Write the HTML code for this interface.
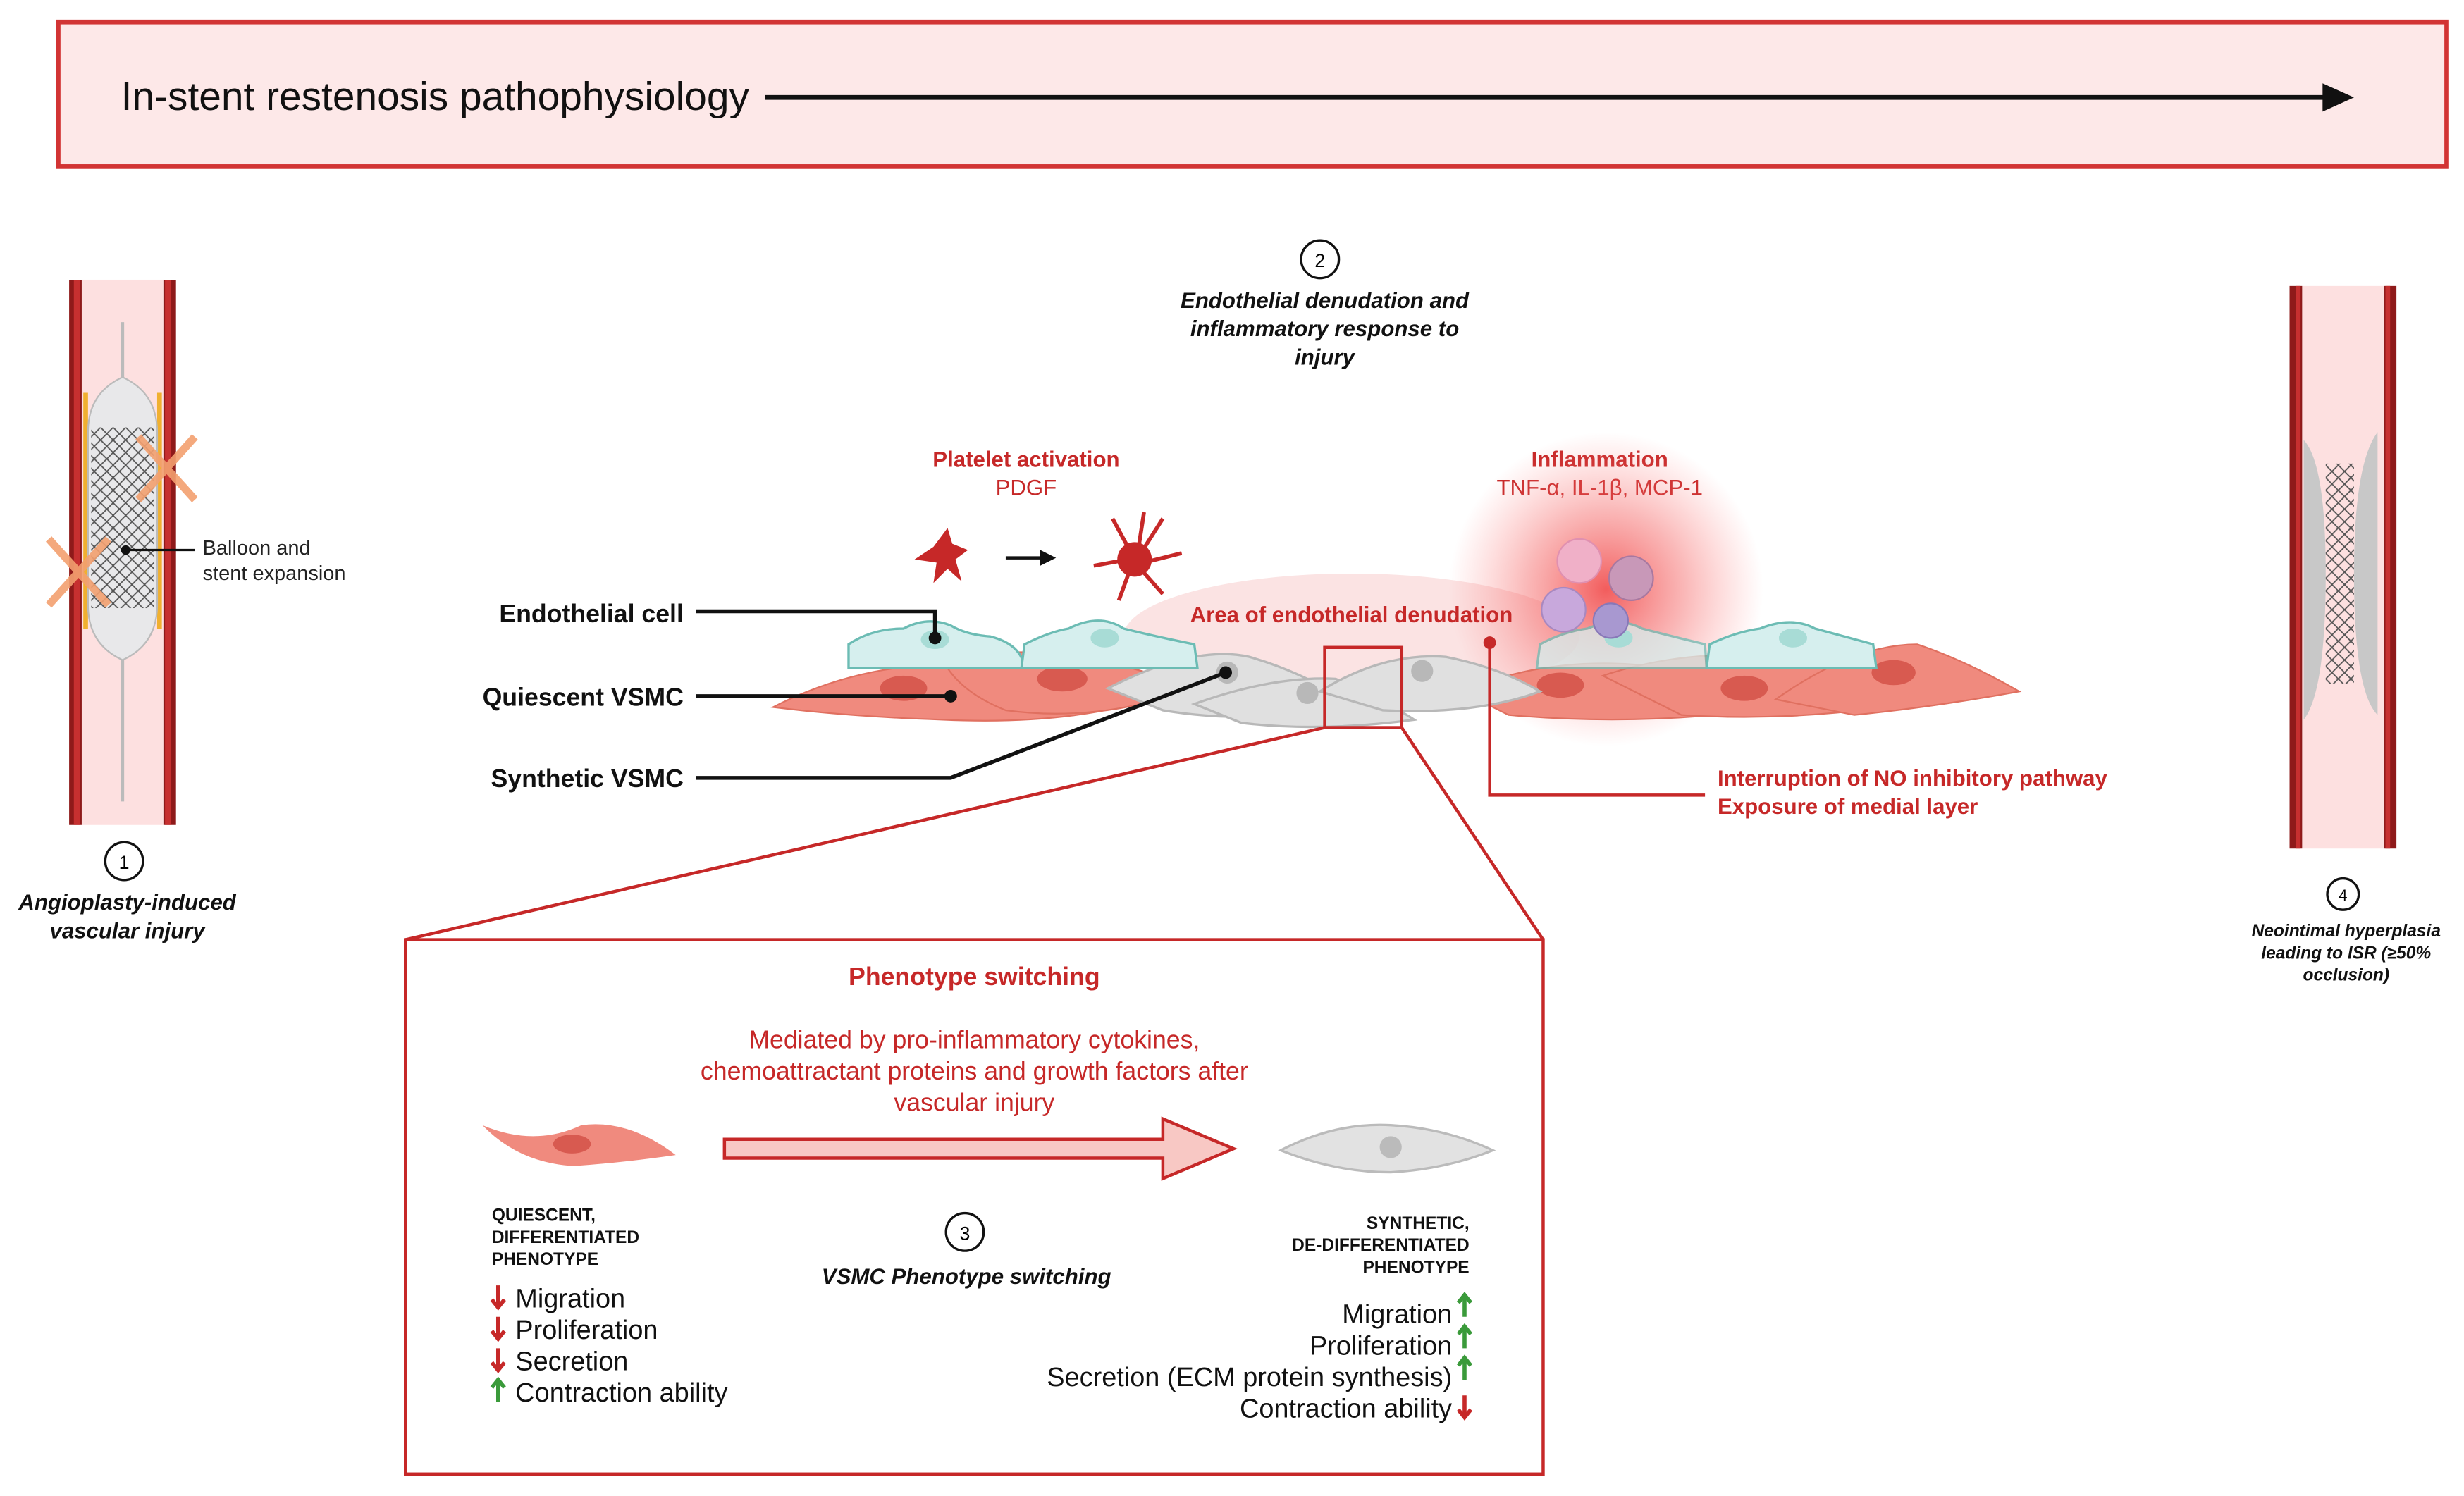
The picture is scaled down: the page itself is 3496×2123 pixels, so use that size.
<!DOCTYPE html>
<html><head><meta charset="utf-8"><style>
html,body{margin:0;padding:0;background:#fff}
svg{display:block}
text{font-family:"Liberation Sans",sans-serif}
</style></head><body>
<svg width="3496" height="2123" viewBox="0 0 1568 952" preserveAspectRatio="none" xmlns="http://www.w3.org/2000/svg">
<defs>
<radialGradient id="glow"><stop offset="0" stop-color="#f04040" stop-opacity="0.85"/><stop offset="0.5" stop-color="#f46060" stop-opacity="0.45"/><stop offset="1" stop-color="#ff8080" stop-opacity="0"/></radialGradient>
<pattern id="mesh" width="8" height="8" patternUnits="userSpaceOnUse"><path d="M0 0L8 8M8 0L0 8" stroke="#555" stroke-width="0.8"/></pattern>
<marker id="ah" markerWidth="10" markerHeight="10" refX="8" refY="5" orient="auto" markerUnits="userSpaceOnUse"><path d="M0 0L10 5L0 10z" fill="#111"/></marker>
</defs>

<rect x="37" y="14" width="1520" height="92" fill="#fde8e8" stroke="#d23434" stroke-width="3"/>
<text x="77" y="70" font-size="25.5" fill="#111">In-stent restenosis pathophysiology</text>
<line x1="487" y1="62" x2="1480" y2="62" stroke="#111" stroke-width="3"/>
<path d="M1478 53L1498 62L1478 71z" fill="#111"/>

<rect x="52" y="178" width="52" height="347" fill="#fde0e0"/>
<path d="M44 178 L52 178 L52 525 L44 525z" fill="#8e1a1a"/>
<path d="M104 178 L112 178 L112 525 L104 525z" fill="#8e1a1a"/>
<path d="M47 178 L51 178 L51 525 L47 525z" fill="#c63030"/>
<path d="M105 178 L109 178 L109 525 L105 525z" fill="#c63030"/>
<rect x="53" y="250" width="3" height="150" fill="#f0b030"/>
<rect x="100" y="250" width="3" height="150" fill="#f0b030"/>
<line x1="78" y1="205" x2="78" y2="510" stroke="#bbb" stroke-width="2"/>
<path d="M78 240 Q56 250 56 275 L56 385 Q56 410 78 420 Q100 410 100 385 L100 275 Q100 250 78 240z" fill="#e8e8ea" stroke="#bbb"/>
<rect x="58" y="272" width="40" height="115" fill="url(#mesh)"/>
<g stroke="#f3a070" stroke-width="5" opacity="0.9"><line x1="88" y1="278" x2="124" y2="318"/><line x1="124" y1="278" x2="88" y2="318"/><line x1="31" y1="343" x2="69" y2="385"/><line x1="69" y1="343" x2="31" y2="385"/></g>
<circle cx="80" cy="350" r="3" fill="#111"/><line x1="80" y1="350" x2="124" y2="350" stroke="#111" stroke-width="1.5"/>
<text x="129" y="353" font-size="13" fill="#222">Balloon and</text>
<text x="129" y="369" font-size="13" fill="#222">stent expansion</text>
<circle cx="79" cy="548" r="12" fill="#fff" stroke="#111" stroke-width="1.5"/><text x="79" y="553" font-size="12" text-anchor="middle">1</text>
<text x="81" y="579" font-size="14" font-weight="bold" font-style="italic" text-anchor="middle" fill="#111">Angioplasty-induced</text>
<text x="81" y="597" font-size="14" font-weight="bold" font-style="italic" text-anchor="middle" fill="#111">vascular injury</text>

<circle cx="840" cy="165" r="12" fill="#fff" stroke="#111" stroke-width="1.5"/><text x="840" y="170" font-size="12" text-anchor="middle">2</text>
<g font-size="14" font-weight="bold" font-style="italic" text-anchor="middle" fill="#111"><text x="843" y="196">Endothelial denudation and</text><text x="843" y="214">inflammatory response to</text><text x="843" y="232">injury</text></g>
<text x="653" y="297" font-size="14" font-weight="bold" fill="#c62828" text-anchor="middle">Platelet activation</text>
<text x="653" y="315" font-size="14" fill="#c62828" text-anchor="middle">PDGF</text>
<text x="1018" y="297" font-size="14" font-weight="bold" fill="#c62828" text-anchor="middle">Inflammation</text>
<text x="1018" y="315" font-size="14" fill="#c62828" text-anchor="middle">TNF-α, IL-1β, MCP-1</text>
<path d="M603 336 L606 346 L616 350 L608 356 L612 370 L603 362 L594 371 L596 358 L582 356 L594 348z" fill="#c62828"/>
<line x1="640" y1="355" x2="670" y2="355" stroke="#111" stroke-width="2" marker-end="url(#ah)"/>
<g stroke="#c62828" stroke-width="2.5" fill="none"><path d="M722 356 L708 330 M724 352 L728 326 M726 352 L740 330 M728 358 L752 352 M724 360 L740 378 M720 360 L712 382 M718 356 L696 360"/></g>
<circle cx="722" cy="356" r="11" fill="#c62828"/>

<ellipse cx="860" cy="405" rx="145" ry="40" fill="#fbe3e3"/>
<circle cx="1022" cy="375" r="100" fill="url(#glow)"/>

<g fill="#f08a7e" stroke="#e07060" stroke-width="1">
<path d="M492 450 Q560 415 640 425 Q700 430 745 440 Q690 462 600 458 Q540 456 492 450z"/>
<path d="M600 420 Q650 410 700 420 Q740 430 760 438 Q700 460 640 452 Q610 440 600 420z"/>
<path d="M930 440 Q990 415 1060 425 Q1100 440 1120 452 Q1040 462 960 455z"/>
<path d="M1020 430 Q1080 410 1150 420 Q1200 430 1230 445 Q1150 460 1070 455z"/>
<path d="M1130 445 Q1180 410 1220 410 Q1250 420 1285 440 Q1230 450 1180 455z"/>
</g>
<g fill="#d85a50"><ellipse cx="575" cy="438" rx="15" ry="8"/><ellipse cx="676" cy="432" rx="16" ry="8"/><ellipse cx="993" cy="436" rx="15" ry="8"/><ellipse cx="1110" cy="438" rx="15" ry="8"/><ellipse cx="1205" cy="428" rx="14" ry="8"/></g>
<g fill="#e0e0e0" stroke="#b8b8b8" stroke-width="1.5">
<path d="M705 438 Q760 410 795 418 Q830 428 860 448 Q800 462 740 452z"/>
<path d="M760 448 Q810 430 850 432 Q880 445 900 458 Q840 466 790 460z"/>
<path d="M840 440 Q880 415 920 418 Q955 425 980 440 Q940 455 880 452z"/>
</g>
<g fill="#b8b8b8"><circle cx="781" cy="428" r="7"/><circle cx="832" cy="441" r="7"/><circle cx="905" cy="427" r="7"/></g>
<g fill="#d6efee" stroke="#6cbcb4" stroke-width="1.5">
<path d="M540 425 L540 410 Q555 400 575 400 Q590 392 605 398 Q615 404 630 405 Q650 410 652 425z"/>
<path d="M650 425 L652 410 Q668 402 680 400 Q700 390 715 400 Q735 405 760 410 L762 425z"/>
<path d="M978 425 L980 410 Q995 402 1010 400 Q1030 392 1045 400 Q1060 404 1085 410 L1086 425z" opacity="0.75"/>
<path d="M1086 425 L1088 410 Q1105 402 1120 400 Q1140 392 1155 400 Q1170 404 1192 410 L1194 425z"/>
</g>
<g fill="#a8dcd6"><ellipse cx="595" cy="407" rx="9" ry="6"/><ellipse cx="703" cy="406" rx="9" ry="6"/><ellipse cx="1030" cy="406" rx="9" ry="6"/><ellipse cx="1141" cy="406" rx="9" ry="6"/></g>
<circle cx="1005" cy="357" r="14" fill="#f0b0c8" stroke="#e090b0"/>
<circle cx="1038" cy="368" r="14" fill="#c898b8" stroke="#a878a0"/>
<circle cx="995" cy="388" r="14" fill="#c8a8dc" stroke="#a888c0"/>
<circle cx="1025" cy="395" r="11" fill="#a898d0" stroke="#8878b8"/>
<text x="860" y="396" font-size="14" font-weight="bold" fill="#c62828" text-anchor="middle">Area of endothelial denudation</text>

<g font-size="16" font-weight="bold" fill="#111" text-anchor="end"><text x="435" y="396">Endothelial cell</text><text x="435" y="449">Quiescent VSMC</text><text x="435" y="501">Synthetic VSMC</text></g>
<g stroke="#111" stroke-width="2.5" fill="none"><path d="M443 389 L595 389 L595 406"/><path d="M443 443 L605 443"/><path d="M443 495 L605 495 L780 428"/></g>
<g fill="#111"><circle cx="595" cy="406" r="4"/><circle cx="605" cy="443" r="4"/><circle cx="780" cy="428" r="4"/></g>
<path d="M948 409 L948 506 L1085 506" stroke="#c62828" stroke-width="2" fill="none"/><circle cx="948" cy="409" r="4" fill="#c62828"/>
<text x="1093" y="500" font-size="14" font-weight="bold" fill="#c62828">Interruption of NO inhibitory pathway</text>
<text x="1093" y="518" font-size="14" font-weight="bold" fill="#c62828">Exposure of medial layer</text>

<rect x="843" y="412" width="49" height="51" fill="none" stroke="#c62828" stroke-width="2"/>
<line x1="843" y1="463" x2="258" y2="598" stroke="#c62828" stroke-width="2"/>
<line x1="892" y1="463" x2="982" y2="598" stroke="#c62828" stroke-width="2"/>
<rect x="258" y="598" width="724" height="340" fill="#fff" stroke="#c62828" stroke-width="2"/>
<text x="620" y="627" font-size="16" font-weight="bold" fill="#c62828" text-anchor="middle">Phenotype switching</text>
<g font-size="16" fill="#c62828" text-anchor="middle"><text x="620" y="667">Mediated by pro-inflammatory cytokines,</text><text x="620" y="687">chemoattractant proteins and growth factors after</text><text x="620" y="707">vascular injury</text></g>
<path d="M307 716 Q340 730 370 716 Q400 712 430 735 Q395 740 365 742 Q330 740 307 716z" fill="#f08a7e"/>
<ellipse cx="364" cy="728" rx="12" ry="6" fill="#d85a50"/>
<path d="M461 725 L740 725 L740 712 L785 731 L740 750 L740 737 L461 737z" fill="#f8c8c4" stroke="#c62828" stroke-width="2"/>
<path d="M815 732 Q850 714 885 716 Q920 718 950 732 Q920 744 885 746 Q850 746 815 732z" fill="#e2e2e2" stroke="#bbb" stroke-width="1.5"/>
<circle cx="885" cy="730" r="7" fill="#bbb"/>
<g font-size="11" font-weight="bold" fill="#111"><text x="313" y="777">QUIESCENT,</text><text x="313" y="791">DIFFERENTIATED</text><text x="313" y="805">PHENOTYPE</text></g>
<g font-size="11" font-weight="bold" fill="#111" text-anchor="end"><text x="935" y="782">SYNTHETIC,</text><text x="935" y="796">DE-DIFFERENTIATED</text><text x="935" y="810">PHENOTYPE</text></g>
<circle cx="614" cy="784" r="12" fill="#fff" stroke="#111" stroke-width="1.5"/><text x="614" y="789" font-size="12" text-anchor="middle">3</text>
<text x="615" y="817" font-size="14" font-weight="bold" font-style="italic" fill="#111" text-anchor="middle">VSMC Phenotype switching</text>
<g font-size="17" fill="#111"><text x="328" y="832">Migration</text><text x="328" y="852">Proliferation</text><text x="328" y="872">Secretion</text><text x="328" y="892">Contraction ability</text></g>
<g font-size="17" fill="#111" text-anchor="end"><text x="924" y="842">Migration</text><text x="924" y="862">Proliferation</text><text x="924" y="882">Secretion (ECM protein synthesis)</text><text x="924" y="902">Contraction ability</text></g>
<g stroke-width="2.5" fill="none">
<path d="M317 818V832M313 827L317 832L321 827" stroke="#c62828"/>
<path d="M317 838V852M313 847L317 852L321 847" stroke="#c62828"/>
<path d="M317 858V872M313 867L317 872L321 867" stroke="#c62828"/>
<path d="M317 892V878M313 883L317 878L321 883" stroke="#3a9a3a"/>
<path d="M932 838V824M928 829L932 824L936 829" stroke="#3a9a3a"/>
<path d="M932 858V844M928 849L932 844L936 849" stroke="#3a9a3a"/>
<path d="M932 878V864M928 869L932 864L936 869" stroke="#3a9a3a"/>
<path d="M932 888V902M928 897L932 902L936 897" stroke="#c62828"/>
</g>

<rect x="1465" y="182" width="52" height="358" fill="#fde0e0"/>
<rect x="1457" y="182" width="8" height="358" fill="#8e1a1a"/>
<rect x="1517" y="182" width="8" height="358" fill="#8e1a1a"/>
<rect x="1461" y="182" width="3" height="358" fill="#c63030"/>
<rect x="1518" y="182" width="3" height="358" fill="#c63030"/>
<path d="M1466 280 Q1480 295 1480 365 Q1480 440 1466 458z" fill="#c8c8c8"/>
<path d="M1513 275 Q1498 295 1498 365 Q1498 440 1513 455z" fill="#c8c8c8"/>
<rect x="1480" y="295" width="18" height="140" fill="url(#mesh)"/>
<circle cx="1491" cy="569" r="10" fill="#fff" stroke="#111" stroke-width="1.5"/><text x="1491" y="573" font-size="10" text-anchor="middle">4</text>
<g font-size="11" font-weight="bold" font-style="italic" fill="#111" text-anchor="middle"><text x="1493" y="596">Neointimal hyperplasia</text><text x="1493" y="610">leading to ISR (≥50%</text><text x="1493" y="624">occlusion)</text></g>
</svg>
</body></html>
